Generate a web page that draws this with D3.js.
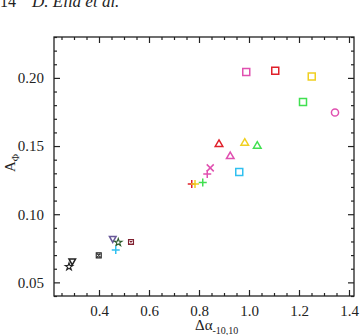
<!DOCTYPE html>
<html>
<head>
<meta charset="utf-8">
<script src="https://cdn.jsdelivr.net/npm/d3@7"></script>
<style>
  body { margin: 0; background: #fff; }
  text { font-family: "Liberation Serif", "DejaVu Serif", serif; fill: #222; }
</style>
</head>
<body>
<div id="chart"></div>
<script>
// values
var dAlpha   = [0.989, 1.105, 1.251, 1.216, 1.344, 0.880, 0.983, 1.033, 0.925, 0.961, 0.845, 0.833, 0.771, 0.784, 0.815, 0.280, 0.293, 0.399, 0.455, 0.477, 0.467, 0.528];
var aPhi     = [0.2043, 0.2052, 0.2010, 0.1823, 0.1746, 0.1519, 0.1528, 0.1506, 0.1430, 0.1310, 0.1340, 0.1295, 0.1222, 0.1222, 0.1232, 0.0615, 0.0650, 0.0698, 0.0815, 0.0793, 0.0737, 0.0796];
var symbols  = ["square", "square", "square", "square", "circle", "triangle", "triangle", "triangle", "triangle", "square", "cross", "plus", "plus", "plus", "plus", "star", "triangleDown", "boxStar", "triangleDown", "star", "plus", "boxStar"];
var colors   = ["#e050b0", "#e0202a", "#f0d020", "#40e050", "#e050b0", "#e0202a", "#f0d020", "#40e050", "#e050b0", "#30c0f0", "#e050b0", "#e050b0", "#e0202a", "#f0d020", "#40e050", "#222222", "#222222", "#222222", "#6a5a9a", "#2a5a2a", "#30c0f0", "#802030"];

var xMajor = [0.4, 0.6, 0.8, 1.0, 1.2, 1.4];
var yMajor = [0.05, 0.10, 0.15, 0.20];

var margin = {top: 37, right: 6, bottom: 39, left: 54},
    width = 360 - margin.left - margin.right,
    height = 335 - margin.top - margin.bottom;

var svg = d3.select("#chart").append("svg")
    .attr("width", 360)
    .attr("height", 335);

// page header
svg.append("text").attr("x", 0).attr("y", 7).style("font-size", "16px").text("14");
svg.append("text").attr("x", 32).attr("y", 7).style("font-size", "17px").style("font-style", "italic").text("D. Elia et al.");

var g = svg.append("g")
    .attr("transform", "translate(" + margin.left + "," + margin.top + ")");

var x = d3.scaleLinear().domain([0.22, 1.42]).range([0, width]);
var y = d3.scaleLinear().domain([0.04, 0.23]).range([height, 0]);

var xMinor = d3.range(0.25, 1.42, 0.05).filter(function(v) { return Math.abs(Math.round(v * 5) - v * 5) > 1e-6; });
var yMinor = d3.range(0.04, 0.2301, 0.01).filter(function(v) { return Math.abs(Math.round(v * 20) - v * 20) > 1e-6; });

function axis(a, ticks, size) {
  return a.tickValues(ticks).tickSizeInner(size).tickSizeOuter(0);
}

// bottom + top
g.append("g").attr("class", "x axis").attr("transform", "translate(0," + height + ")")
  .call(axis(d3.axisBottom(x), xMajor, -6).tickFormat(d3.format(".1f")).tickPadding(9));
g.append("g").attr("transform", "translate(0," + height + ")")
  .call(axis(d3.axisBottom(x), xMinor, -3).tickFormat(""));
g.append("g").call(axis(d3.axisTop(x), xMajor, -6).tickFormat(""));
g.append("g").call(axis(d3.axisTop(x), xMinor, -3).tickFormat(""));

// left + right
g.append("g").attr("class", "y axis")
  .call(axis(d3.axisLeft(y), yMajor, -6).tickFormat(d3.format(".2f")).tickPadding(10));
g.append("g").call(axis(d3.axisLeft(y), yMinor, -3).tickFormat(""));
g.append("g").attr("transform", "translate(" + width + ",0)")
  .call(axis(d3.axisRight(y), yMajor, -6).tickFormat(""));
g.append("g").attr("transform", "translate(" + width + ",0)")
  .call(axis(d3.axisRight(y), yMinor, -3).tickFormat(""));

g.selectAll(".domain").remove();
g.append("rect").attr("width", width).attr("height", height)
  .attr("fill", "none").attr("stroke", "#222").attr("stroke-width", 1.3);
g.selectAll(".tick line").attr("stroke", "#222").attr("stroke-width", 1.2);
g.selectAll(".tick text").style("font-size", "15px").style("font-family", "Liberation Serif, serif").attr("fill", "#333");

// axis labels
var xl = svg.append("text").attr("x", 195).attr("y", 330).style("font-size", "15px");
xl.append("tspan").text("\u0394\u03b1");
xl.append("tspan").attr("dy", 4).style("font-size", "10px").text("-10,10");

var yl = svg.append("text").attr("transform", "translate(15,172) rotate(-90)").style("font-size", "15px");
yl.append("tspan").text("A");
yl.append("tspan").attr("dy", 4).style("font-size", "10px").text("\u03a6");

// markers
var shapes = {
  square: "M-3.5,-3.5H3.5V3.5H-3.5Z",
  circle: d3.symbol(d3.symbolCircle, 40)(),
  triangle: "M0,-3.5L3.8,3H-3.8Z",
  triangleDown: "M0,3L3.3,-3H-3.3Z",
  plus: "M-4,0H4M0,-4V4",
  cross: "M-3.5,-3.5L3.5,3.5M-3.5,3.5L3.5,-3.5",
  star: d3.symbol(d3.symbolStar, 18)(),
  boxStar: "M-2.5,-2.5H2.5V2.5H-2.5Z M-1.5,-1.5L1.5,1.5M-1.5,1.5L1.5,-1.5"
};

g.selectAll(".pt")
    .data(dAlpha)
  .enter().append("path")
    .attr("class", "pt")
    .attr("transform", function(d, i) { return "translate(" + x(d) + "," + y(aPhi[i]) + ")"; })
    .attr("d", function(d, i) { return shapes[symbols[i]]; })
    .attr("fill", "none")
    .attr("stroke", function(d, i) { return colors[i]; })
    .attr("stroke-width", function(d, i) { return symbols[i] === "star" || symbols[i] === "boxStar" ? 1.1 : 1.5; });
</script>
</body>
</html>
